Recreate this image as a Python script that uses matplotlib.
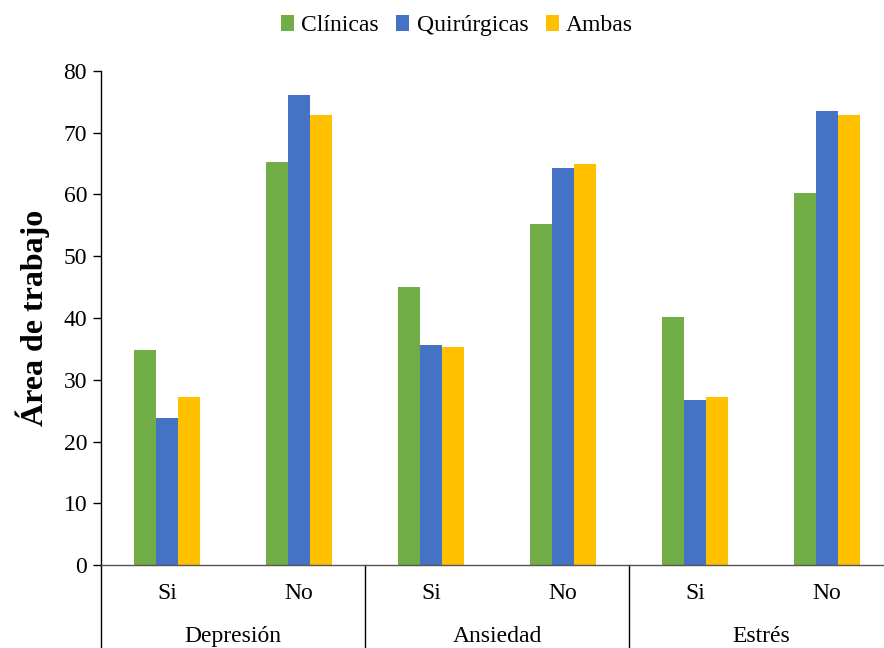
import matplotlib.pyplot as plt
import matplotlib.transforms as mtransforms
import numpy as np

# Datos
grupos = ['Depresión', 'Ansiedad', 'Estrés']
respuestas = ['Si', 'No', 'Si', 'No', 'Si', 'No']
clinicas = [34.8, 65.3, 45.0, 55.2, 40.1, 60.2]
quirurgicas = [23.8, 76.1, 35.7, 64.3, 26.7, 73.5]
ambas = [27.2, 72.9, 35.3, 64.9, 27.2, 72.9]

plt.rcParams['font.family'] = ['Liberation Serif', 'DejaVu Serif']

fig = plt.figure(figsize=(8.84, 6.48), dpi=100)
ax = fig.add_axes([101 / 884, 83 / 648, 792 / 884, 494 / 648])

x = np.arange(len(respuestas))
w = 1 / 6
ax.bar(x - w, clinicas, w, color='#70ad47', label='Clínicas')
ax.bar(x, quirurgicas, w, color='#4472c4', label='Quirúrgicas')
ax.bar(x + w, ambas, w, color='#ffc000', label='Ambas')

ax.set_xlim(-0.5, 5.5)
ax.set_ylim(0, 80)
ax.set_yticks(range(0, 81, 10))
ax.tick_params(axis='y', labelsize=17, length=6, width=1, direction='out', pad=4)
ax.set_xticks(x)
ax.set_xticklabels(respuestas, fontsize=17)
ax.tick_params(axis='x', length=0, pad=13)

for s in ['top', 'right']:
    ax.spines[s].set_visible(False)
ax.spines['left'].set_linewidth(1)
ax.spines['bottom'].set_linewidth(1)
ax.spines['bottom'].set_color('#555555')

ax.set_ylabel('Área de trabajo', fontsize=23, fontweight='bold', labelpad=10)

# Separadores de grupo y etiquetas
trans = mtransforms.blended_transform_factory(ax.transData, ax.transAxes)
for sep in [-0.5, 1.5, 3.5, 5.5]:
    ax.plot([sep, sep], [0, -0.2], color='black', lw=1, transform=trans, clip_on=False)
for i, g in enumerate(grupos):
    ax.text(2 * i + 0.5, -0.144, g, transform=trans, ha='center', va='center', fontsize=17)

ax.legend(loc='upper center', bbox_to_anchor=(457 / 884, 1.01), bbox_transform=fig.transFigure,
          ncol=3, frameon=False, fontsize=17, handlelength=0.55, handleheight=0.7,
          handletextpad=0.3, columnspacing=0.75)

plt.savefig('out.png', dpi=100)
